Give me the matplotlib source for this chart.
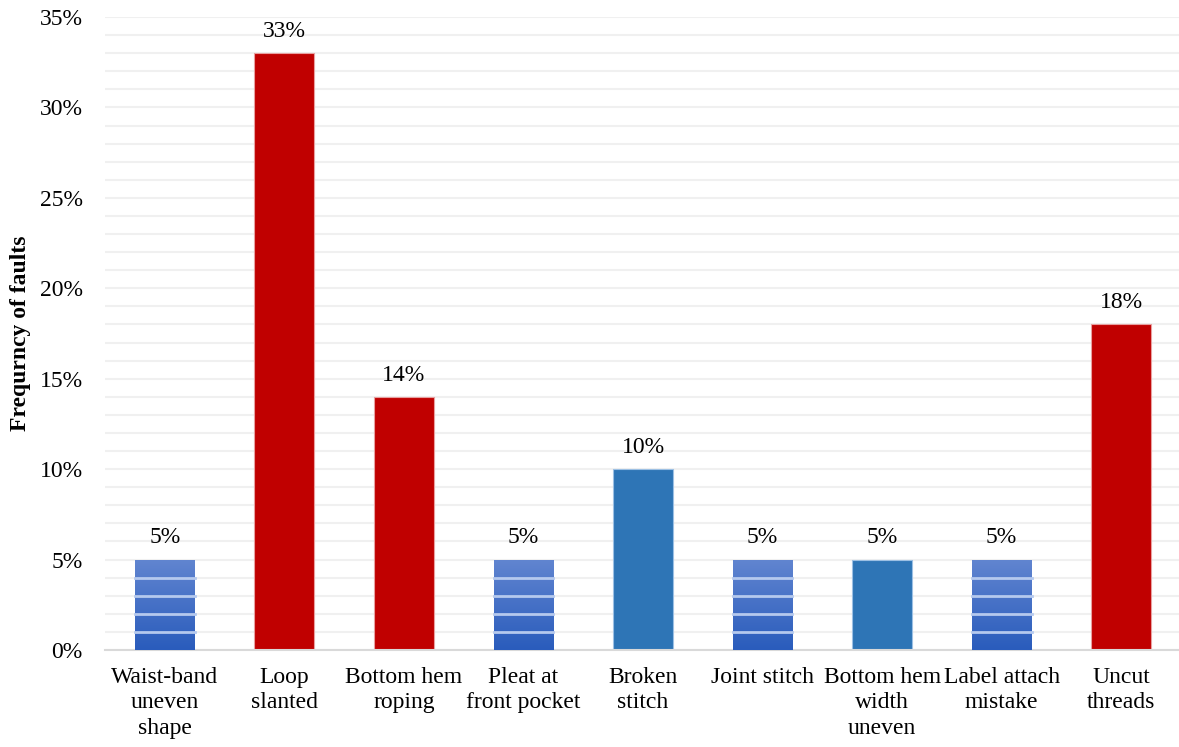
import numpy as np
import matplotlib.pyplot as plt
from matplotlib.colors import LinearSegmentedColormap

plt.rcParams['font.family'] = ['Liberation Serif', 'DejaVu Serif']

# Data
categories = ["Waist-band\nuneven\nshape", "Loop\nslanted", "Bottom hem\nroping",
              "Pleat at\nfront pocket", "Broken\nstitch", "Joint stitch",
              "Bottom hem\nwidth\nuneven", "Label attach\nmistake", "Uncut\nthreads"]
values = [5, 33, 14, 5, 10, 5, 5, 5, 18]
styles = ["striped", "red", "red", "striped", "blue", "striped", "blue", "striped", "red"]

fig = plt.figure(figsize=(11.79, 7.47), dpi=100)
ax = fig.add_axes([105 / 1179, 97 / 747, 1076 / 1179, 633 / 747])

x = np.arange(len(categories))
w = 0.5
grad = LinearSegmentedColormap.from_list("g", ["#2a5cbc", "#6185d0"])

for xi, v, s in zip(x, values, styles):
    if s == "red":
        ax.bar(xi, v, w, color="#c00000", edgecolor="#e8a0a0", linewidth=0.8, zorder=2)
    elif s == "blue":
        ax.bar(xi, v, w, color="#2e75b6", edgecolor="#9cc0e4", linewidth=0.8, zorder=2)
    else:
        bar = ax.bar(xi, v, w, color="#4472c4", linewidth=0, zorder=2)[0]
        im = ax.imshow(np.linspace(0, 1, 100).reshape(-1, 1), cmap=grad, origin="lower",
                       extent=(xi - w / 2, xi + w / 2, 0, v), aspect="auto", zorder=3)
        im.set_clip_path(bar)
        for yy in range(1, v):
            ax.plot([xi - w / 2, xi + w / 2], [yy, yy], color="#b5c9ee", lw=2, zorder=4)
    ax.annotate(f"{v}%", (xi, v), xytext=(0, 8), textcoords="offset points",
                ha="center", va="bottom", fontsize=17)

ax.set_xlim(-0.5, len(categories) - 0.5)
ax.set_ylim(0, 35)
ax.set_yticks(range(0, 36, 5))
ax.set_yticklabels([f"{t}%" for t in range(0, 36, 5)], fontsize=17)
ax.set_yticks(range(0, 36), minor=True)
ax.grid(axis="y", which="both", color="#f0f0f0", lw=1.5, zorder=0)
ax.set_axisbelow(True)
ax.set_xticks(x)
ax.set_xticklabels(categories, fontsize=17, linespacing=1.3)
ax.tick_params(axis="both", which="both", length=0)
ax.tick_params(axis="y", pad=16)
ax.tick_params(axis="x", pad=12)
for sp in ["top", "right", "left"]:
    ax.spines[sp].set_visible(False)
ax.spines["bottom"].set_color("#d9d9d9")
ax.spines["bottom"].set_linewidth(1.5)
ax.set_ylabel("Frequrncy of faults", fontsize=17, fontweight="bold", labelpad=6)

fig.savefig("out.png", dpi=100)
